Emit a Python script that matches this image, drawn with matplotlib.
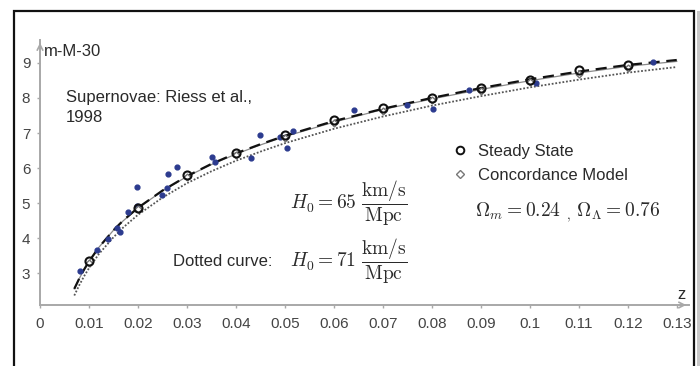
import numpy as np
import matplotlib
matplotlib.use("Agg")
import matplotlib.pyplot as plt
from matplotlib.patches import Rectangle
from matplotlib.lines import Line2D

plt.rcParams['font.family'] = ['Liberation Sans', 'DejaVu Sans']
plt.rcParams['mathtext.fontset'] = 'cm'

# curves
z_curve = [0.007, 0.008, 0.009, 0.01, 0.012, 0.015, 0.017, 0.02, 0.025, 0.03, 0.035,
           0.04, 0.045, 0.05, 0.06, 0.07, 0.08, 0.09, 0.10, 0.11, 0.12, 0.13]
steady = [2.56, 2.85, 3.11, 3.34, 3.74, 4.23, 4.51, 4.87, 5.36, 5.77, 6.12,
          6.42, 6.68, 6.92, 7.34, 7.69, 8.00, 8.28, 8.53, 8.75, 8.94, 9.08]
concord = [2.56, 2.85, 3.11, 3.34, 3.74, 4.23, 4.50, 4.86, 5.35, 5.76, 6.10,
           6.40, 6.66, 6.90, 7.31, 7.67, 7.97, 8.24, 8.49, 8.71, 8.90, 9.04]
dotted = [2.37, 2.66, 2.92, 3.15, 3.55, 4.03, 4.31, 4.67, 5.16, 5.57, 5.91,
          6.21, 6.47, 6.71, 7.12, 7.47, 7.78, 8.05, 8.30, 8.52, 8.72, 8.88]

# model markers
z_mark = [0.01, 0.02, 0.03, 0.04, 0.05, 0.06, 0.07, 0.08, 0.09, 0.10, 0.11, 0.12]
ss_mark = [3.34, 4.87, 5.80, 6.42, 6.93, 7.36, 7.71, 8.00, 8.28, 8.52, 8.79, 8.93]
cm_mark = [3.30, 4.83, 5.74, 6.37, 6.87, 7.29, 7.64, 7.93, 8.21, 8.46, 8.68, 8.86]

# supernovae (Riess et al. 1998)
z_sn = [0.0082, 0.0116, 0.0139, 0.0158, 0.0163, 0.0180, 0.0198, 0.0198, 0.0249,
        0.0259, 0.0262, 0.0280, 0.0351, 0.0357, 0.0431, 0.0449, 0.0490, 0.0504,
        0.0516, 0.0641, 0.0749, 0.0802, 0.0876, 0.1012, 0.1251]
m_sn = [3.06, 3.66, 3.97, 4.28, 4.18, 4.74, 4.91, 5.46, 5.24,
        5.42, 5.82, 6.03, 6.31, 6.18, 6.29, 6.94, 6.89, 6.57,
        7.05, 7.66, 7.80, 7.68, 8.23, 8.43, 9.03]

x_ticks = [0, 0.01, 0.02, 0.03, 0.04, 0.05, 0.06, 0.07, 0.08, 0.09, 0.1, 0.11, 0.12, 0.13]
x_labels = ['0', '0.01', '0.02', '0.03', '0.04', '0.05', '0.06', '0.07', '0.08',
            '0.09', '0.1', '0.11', '0.12', '0.13']
y_ticks = [3, 4, 5, 6, 7, 8, 9]

axis_gray = '#a8a8a8'
text_col = '#2a2a2a'

fig = plt.figure(figsize=(7.0, 3.66), dpi=100)
ax = fig.add_axes([40/700, 1-305/366, 649/700, 265/366])

# frame around the graphic, with a soft shadow on the right
fig.add_artist(Rectangle((697/700, -0.1), 3/700, 1.07, transform=fig.transFigure,
                         facecolor='#c8c8c8', edgecolor='none'))
fig.add_artist(Rectangle((14/700, -0.1), 680/700, 1 - 11/366 + 0.1,
                         transform=fig.transFigure, facecolor='none',
                         edgecolor='#111111', linewidth=1.6, clip_on=False))

ax.plot(z_curve, dotted, color='#555555', linestyle=(0, (1, 1)), linewidth=1.3)
ax.plot(z_curve, concord, color='#8a8a8a', linewidth=0.9)
ax.plot(z_curve, steady, color='#111111', linestyle=(0, (5, 3)), linewidth=1.6)

ax.scatter(z_sn, m_sn, s=12, color='#2c3b8f', zorder=4)
ax.plot(z_mark, cm_mark, linestyle='none', marker='D', markersize=3.5,
        markerfacecolor='white', markeredgecolor='#777777', markeredgewidth=1.0, zorder=5)
ax.plot(z_mark, ss_mark, linestyle='none', marker='o', markersize=5.8,
        markerfacecolor='none', markeredgecolor='#111111', markeredgewidth=1.5, zorder=6)

ax.set_xlim(0, 0.1325)
ax.set_ylim(2.1, 9.65)

for s in ['top', 'right']:
    ax.spines[s].set_visible(False)
for s in ['left', 'bottom']:
    ax.spines[s].set_color(axis_gray)
    ax.spines[s].set_linewidth(1.4)

ax.annotate('', xy=(0, 1.0), xytext=(0, 0.96), xycoords='axes fraction',
            arrowprops=dict(arrowstyle='->', color=axis_gray, lw=1.2))
ax.annotate('', xy=(1.0, 0), xytext=(0.97, 0), xycoords='axes fraction',
            arrowprops=dict(arrowstyle='->', color=axis_gray, lw=1.2))

ax.set_xticks(x_ticks)
ax.set_xticklabels(x_labels)
ax.set_yticks(y_ticks)
ax.tick_params(axis='both', colors=axis_gray, length=2, width=1, labelsize=11,
               labelcolor='#444444')
ax.tick_params(axis='x', pad=7)
ax.tick_params(axis='y', pad=5)

ax.text(0.0007, 9.32, 'm-M-30', fontsize=12, color=text_col, va='center')
ax.text(0.989, 0.012, 'z', transform=ax.transAxes, fontsize=12, color=text_col,
        va='bottom', ha='center')
ax.text(0.0053, 8.0, 'Supernovae: Riess et al.,', fontsize=12, color=text_col, va='center')
ax.text(0.0053, 7.45, '1998', fontsize=12, color=text_col, va='center')

ax.text(0.051, 5.0, r'$H_0 = 65\ \dfrac{\mathrm{km/s}}{\mathrm{Mpc}}$', fontsize=14,
        color=text_col, va='center')
ax.text(0.0272, 3.35, 'Dotted curve:', fontsize=12, color=text_col, va='center')
ax.text(0.0510, 3.35, r'$H_0 = 71\ \dfrac{\mathrm{km/s}}{\mathrm{Mpc}}$', fontsize=14,
        color=text_col, va='center')
ax.text(0.0888, 4.75, r'$\Omega_m = 0.24\ _{,}\ \Omega_\Lambda = 0.76$',
        fontsize=14, color=text_col, va='center')

handles = [Line2D([], [], linestyle='none', marker='o', markersize=5.5,
                  markerfacecolor='none', markeredgecolor='#111111', markeredgewidth=1.4),
           Line2D([], [], linestyle='none', marker='D', markersize=4,
                  markerfacecolor='white', markeredgecolor='#777777', markeredgewidth=1.0)]
ax.legend(handles, ['Steady State', 'Concordance Model'], frameon=False,
          loc='upper left', bbox_to_anchor=(0.621, 0.64), borderpad=0,
          handlelength=1.0, handletextpad=0.6, labelspacing=0.55,
          prop={'size': 12}, labelcolor=text_col)

fig.savefig('out.png', dpi=100)
